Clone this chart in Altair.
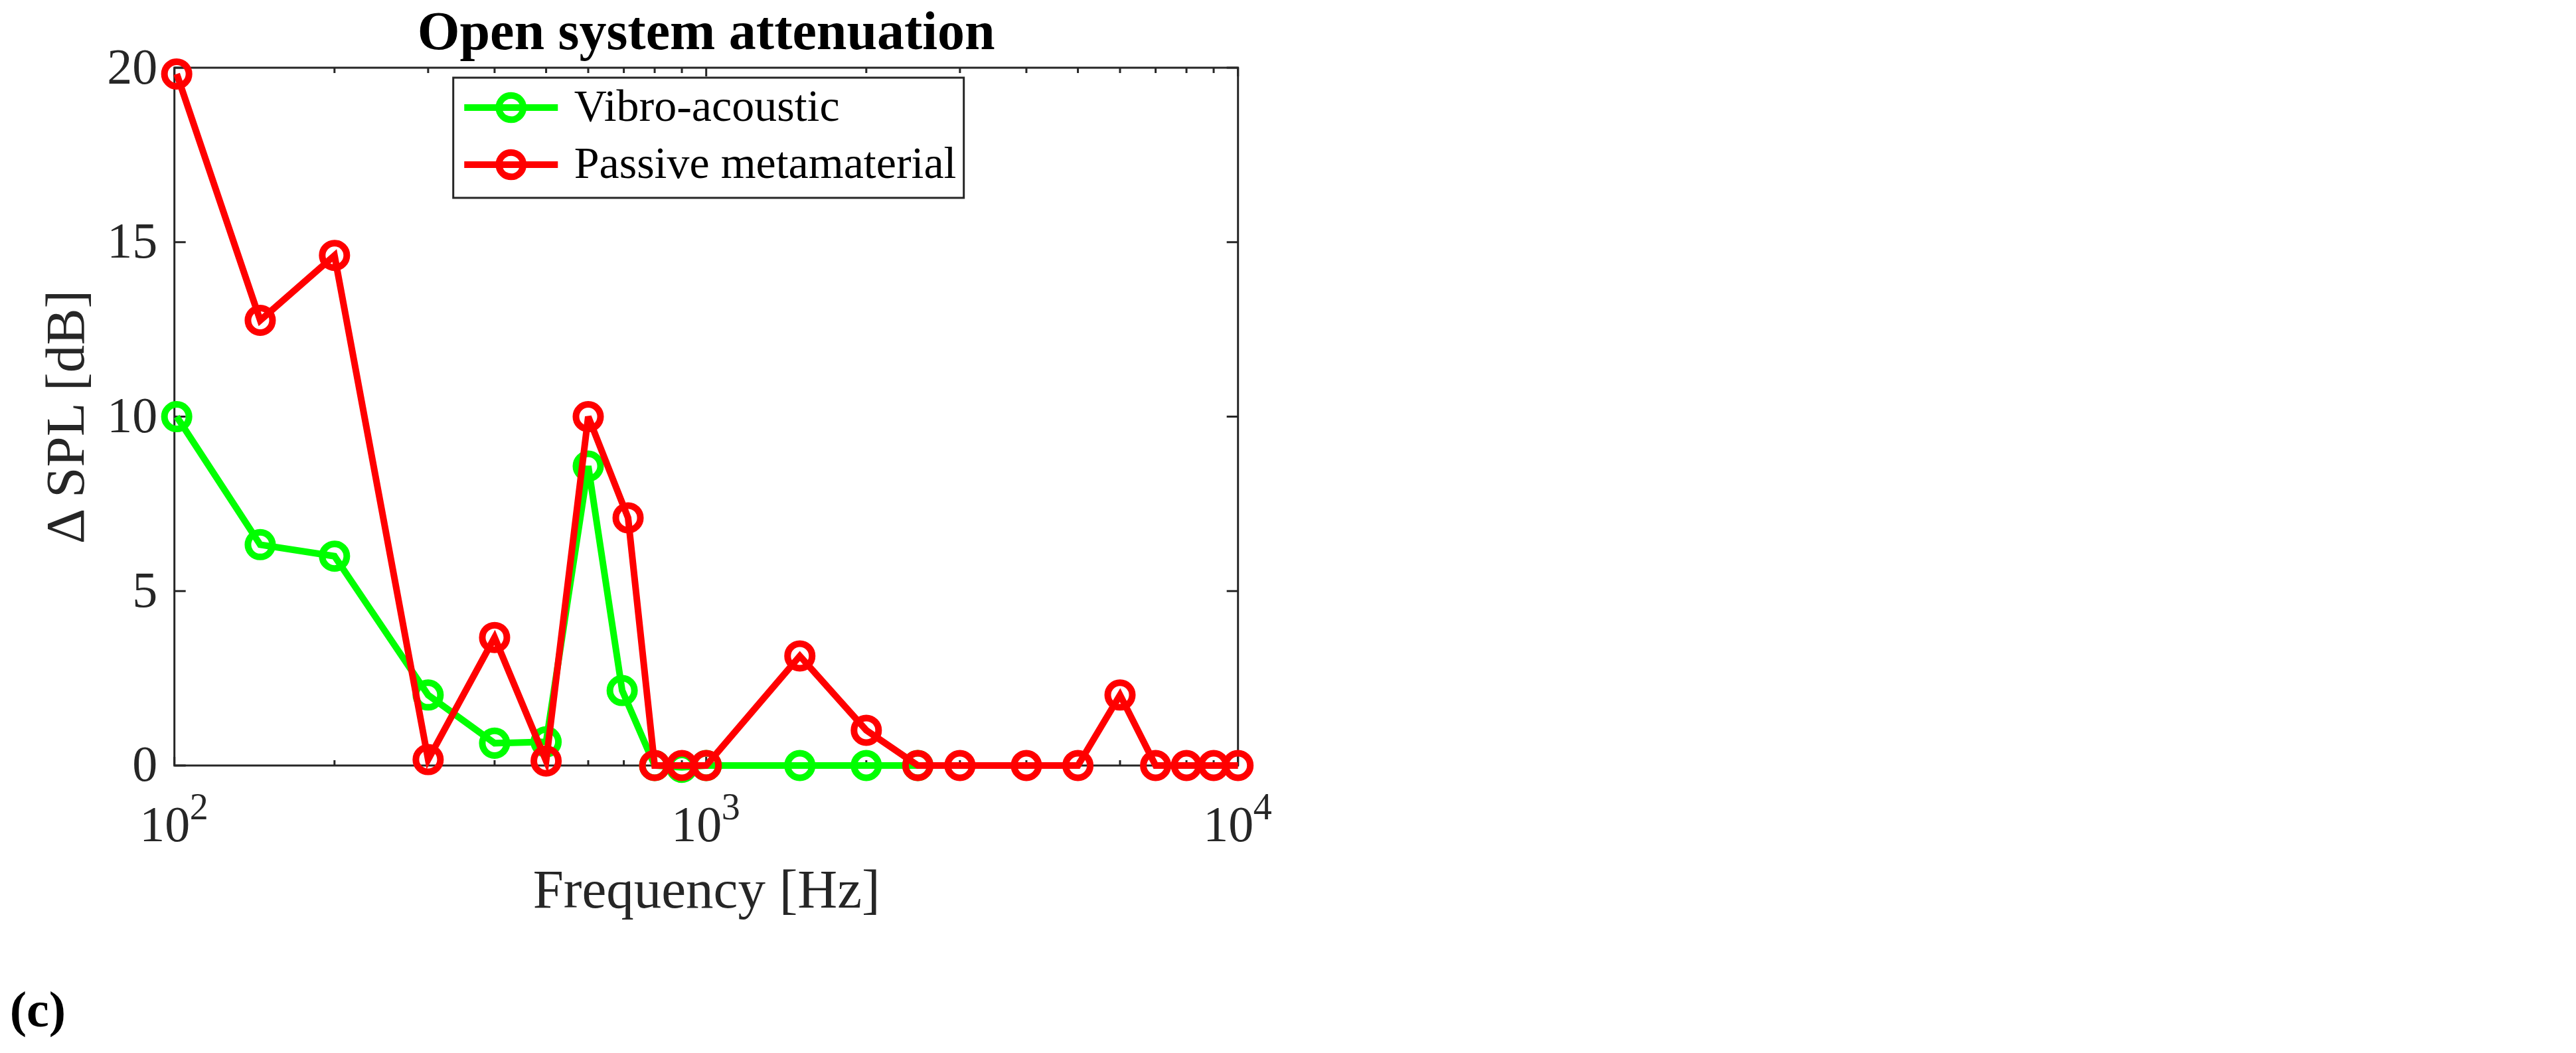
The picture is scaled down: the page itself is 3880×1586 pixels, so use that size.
import altair as alt
import pandas as pd

W, H = 1602, 1051
AX = "#262626"
FONT = "Liberation Serif"

title_text = "Open system attenuation"
panel_label = "(c)"
x_title = "Frequency [Hz]"
y_title = "Δ SPL [dB]"

series_names = ["Vibro-acoustic", "Passive metamaterial"]
series_colors = ["#00ff00", "#ff0000"]

green_freq = [101, 145, 200, 300, 400, 500, 600, 695, 800, 900, 1000, 1500, 2000, 2500]
green_val = [10.0, 6.33, 6.0, 2.02, 0.64, 0.68, 8.58, 2.15, 0.0, -0.05, 0.0, 0.0, 0.0, 0.0]

red_freq = [101, 145, 200, 300, 400, 500, 600, 713, 800, 900, 1000, 1500, 2000, 2500,
            3000, 4000, 5000, 6000, 7000, 8000, 9000, 10000]
red_val = [19.82, 12.76, 14.62, 0.17, 3.67, 0.13, 10.0, 7.1, 0.0, 0.0, 0.0, 3.14, 1.01, 0.0,
           0.0, 0.0, 0.0, 2.02, 0.0, 0.0, 0.0, 0.0]

y_ticks = [0, 5, 10, 15, 20]
x_major = [100, 1000, 10000]
x_minor = [200, 300, 400, 500, 600, 700, 800, 900,
           2000, 3000, 4000, 5000, 6000, 7000, 8000, 9000]
x_tick_base = ["10", "10", "10"]
x_tick_exp = ["2", "3", "4"]

green_df = pd.DataFrame({"freq": green_freq, "val": green_val, "series": series_names[0]})
red_df = pd.DataFrame({"freq": red_freq, "val": red_val, "series": series_names[1]})
ytick_df = pd.DataFrame({"val": y_ticks})
xmaj_df = pd.DataFrame({"freq": x_major, "base": x_tick_base, "exp": x_tick_exp})
xmin_df = pd.DataFrame({"freq": x_minor})
panel_df = pd.DataFrame({"t": [panel_label]})

xscale = alt.Scale(type="log", domain=[100, 10000], nice=False)
yscale = alt.Scale(domain=[0, 20], nice=False, zero=False)
cscale = alt.Scale(domain=series_names, range=series_colors)

x_axis = alt.Axis(labels=False, ticks=False, tickSize=0, domain=False, grid=False,
                  title=x_title, titleFont=FONT, titleFontSize=83, titleFontWeight="normal",
                  titleColor=AX, titlePadding=214, titleBaseline="alphabetic")
y_axis = alt.Axis(values=y_ticks, ticks=False, tickSize=0, domain=False, grid=False,
                  labelFont=FONT, labelFontSize=76, labelColor=AX, labelPadding=26,
                  title=y_title, titleFont=FONT, titleFontSize=83, titleFontWeight="normal",
                  titleColor=AX, titlePadding=18)

X = alt.X("freq:Q", scale=xscale, axis=x_axis)
Y = alt.Y("val:Q", scale=yscale, axis=y_axis)

sym_path = "M-1.21,0L4.79,0M1.01,0A0.78,0.78,0,1,1,2.57,0A0.78,0.78,0,1,1,1.01,0Z"
legend = alt.Legend(title=None, orient="none", legendX=420, legendY=15,
                    symbolType=sym_path, symbolSize=2209, symbolStrokeWidth=10,
                    labelFont=FONT, labelFontSize=68, labelColor="black",
                    labelOffset=103, labelLimit=2000, padding=11, rowPadding=8,
                    strokeColor=AX, fillColor="white")

c_legend = alt.Color("series:N", scale=cscale, legend=legend)

tick_kw = dict(color=AX, strokeWidth=3)
yt_left = alt.Chart(ytick_df).mark_rule(**tick_kw).encode(y=Y, x=alt.value(0), x2=alt.value(17))
yt_right = alt.Chart(ytick_df).mark_rule(**tick_kw).encode(y=Y, x=alt.value(W - 17), x2=alt.value(W))
xt_bot = alt.Chart(xmaj_df).mark_rule(**tick_kw).encode(x=X, y=alt.value(H), y2=alt.value(H - 13))
xt_top = alt.Chart(xmaj_df).mark_rule(**tick_kw).encode(x=X, y=alt.value(0), y2=alt.value(13))
xm_bot = alt.Chart(xmin_df).mark_rule(**tick_kw).encode(x=X, y=alt.value(H), y2=alt.value(H - 8))
xm_top = alt.Chart(xmin_df).mark_rule(**tick_kw).encode(x=X, y=alt.value(0), y2=alt.value(8))

xl_base = alt.Chart(xmaj_df).mark_text(font=FONT, fontSize=76, color=AX, align="right",
                                       baseline="alphabetic", dx=23.5).encode(
    x=X, y=alt.value(H + 114), text="base:N")
xl_exp = alt.Chart(xmaj_df).mark_text(font=FONT, fontSize=56, color=AX, align="left",
                                      baseline="alphabetic", dx=23).encode(
    x=X, y=alt.value(H + 81), text="exp:N")

line_kw = dict(strokeWidth=10, strokeJoin="miter", strokeCap="butt")
pt_kw = dict(filled=False, size=1370, strokeWidth=10, opacity=1)

g_line = alt.Chart(green_df).mark_line(**line_kw).encode(x=X, y=Y, color=alt.value(series_colors[0]))
g_pts = alt.Chart(green_df).mark_point(**pt_kw).encode(x=X, y=Y, color=alt.value(series_colors[0]))
r_line = alt.Chart(red_df).mark_line(**line_kw).encode(x=X, y=Y, color=alt.value(series_colors[1]))
r_pts = alt.Chart(red_df).mark_point(**pt_kw).encode(x=X, y=Y, color=c_legend)

panel = alt.Chart(panel_df).mark_text(font=FONT, fontSize=76, fontWeight="bold", color="black",
                                      align="left", baseline="alphabetic").encode(
    text="t:N", x=alt.value(-248), y=alt.value(1444))

chart = alt.layer(
    yt_left, yt_right, xt_bot, xt_top, xm_bot, xm_top,
    g_line, g_pts, r_line, r_pts,
    xl_base, xl_exp, panel,
).properties(
    width=W, height=H,
    padding={"left": 254.7, "top": 94, "right": 60, "bottom": 420},
    autosize=alt.AutoSizeParams(type="none"),
    title=alt.TitleParams(text=title_text, font=FONT, fontSize=82, fontWeight="bold",
                          color="black", offset=-27, anchor="middle"),
).configure_view(stroke=AX, strokeWidth=3).configure_legend(strokeWidth=3)

chart.save("out.html", embed_options={"renderer": "svg", "actions": False})
